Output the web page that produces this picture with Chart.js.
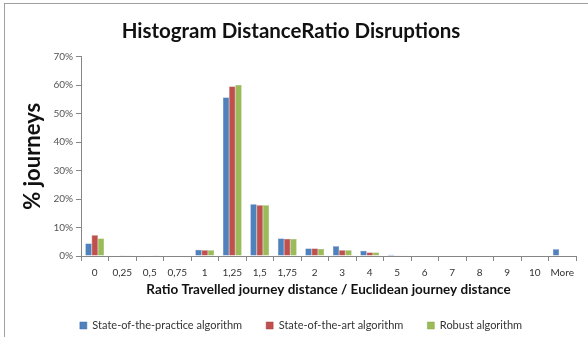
<!DOCTYPE html>
<html>
<head>
<meta charset="utf-8">
<script src="https://cdn.jsdelivr.net/npm/chart.js@4.4.1/dist/chart.umd.min.js"></script>
<style>
  html, body { margin: 0; padding: 0; background: #fff; }
  #wrap { position: relative; width: 588px; height: 337px; }
  #frame { position: absolute; left: 4px; top: 3px; right: -2px; bottom: -2px; border-left: 1px solid #a0a0a0; border-top: 1px solid #a0a0a0; }
  canvas { position: absolute; left: 0; top: 0; }
</style>
</head>
<body>
<div id="wrap">
  <div id="frame"></div>
  <canvas id="c" width="588" height="337"></canvas>
</div>
<script>
// Distance ratio bins (travelled / euclidean)
const categories = ['0', '0,25', '0,5', '0,75', '1', '1,25', '1,5', '1,75', '2', '3', '4', '5', '6', '7', '8', '9', '10', 'More'];

// Share of journeys per bin, in percent
const practiceValues = [4.4, 0.2, 0.2, 0.2, 2.2, 55.6, 18.2, 6.1, 2.6, 3.4, 1.8, 0.4, 0, 0, 0, 0, 0, 2.4];
const artValues      = [7.3, 0.1, 0.0, 0.0, 2.0, 59.5, 17.8, 6.0, 2.6, 2.0, 1.2, 0.3, 0, 0, 0, 0, 0, 0];
const robustValues   = [6.1, 0.1, 0.1, 0.0, 2.0, 60.0, 17.8, 6.0, 2.5, 2.0, 1.2, 0.3, 0, 0, 0, 0, 0, 0];

const yTicks = [0, 10, 20, 30, 40, 50, 60, 70];

const font = 'Lato, Carlito, Calibri, "Open Sans", sans-serif';
const axisGray = '#868686';

// Nudge the legend row a little to the right of the canvas centre
const legendShift = {
  id: 'legendShift',
  afterLayout(chart) {
    if (chart.legend) {
      chart.legend.left += 10;
      chart.legend.right += 10;
    }
  }
};

new Chart(document.getElementById('c'), {
  type: 'bar',
  plugins: [legendShift],
  data: {
    labels: categories,
    datasets: [
      { label: 'State-of-the-practice algorithm', data: practiceValues, backgroundColor: '#4F81BD', borderColor: '#3A6EA8', borderWidth: 0.5 },
      { label: 'State-of-the-art algorithm', data: artValues, backgroundColor: '#C0504D', borderColor: '#A63F3C', borderWidth: 0.5 },
      { label: 'Robust algorithm', data: robustValues, backgroundColor: '#9BBB59', borderColor: '#87A649', borderWidth: 0.5 }
    ]
  },
  options: {
    responsive: false,
    animation: false,
    layout: { padding: { left: 6, right: 12, top: 0, bottom: -4 } },
    datasets: { bar: { categoryPercentage: 0.68, barPercentage: 1.0 } },
    plugins: {
      title: {
        display: true,
        text: 'Histogram DistanceRatio Disruptions',
        color: '#111',
        font: { family: font, size: 20.5, weight: 'bold' },
        padding: { top: 19, bottom: 13 }
      },
      legend: {
        position: 'bottom',
        labels: {
          boxWidth: 7,
          boxHeight: 7,
          padding: 24,
          color: '#333',
          font: { family: font, size: 11 }
        }
      },
      tooltip: { enabled: false }
    },
    scales: {
      x: {
        grid: { display: true, drawOnChartArea: false, offset: true, tickLength: 5, color: axisGray },
        border: { color: axisGray },
        ticks: { color: '#333', font: { family: font, size: 10 }, padding: 6, maxRotation: 0, autoSkip: false },
        title: {
          display: true,
          text: 'Ratio Travelled journey distance / Euclidean journey distance',
          color: '#111',
          font: { family: font, size: 13.5, weight: 'bold' },
          padding: { top: 0, bottom: -2 }
        },
        afterFit: (s) => { s.height = 40; }
      },
      y: {
        min: 0,
        max: 70,
        afterBuildTicks: (s) => { s.ticks = yTicks.map(v => ({ value: v })); },
        grid: { display: true, drawOnChartArea: false, tickLength: 5, color: axisGray },
        border: { color: axisGray },
        ticks: { color: '#555', font: { family: font, size: 10 }, padding: 3, callback: (v) => v + '%' },
        title: {
          display: true,
          text: '% journeys',
          color: '#111',
          font: { family: font, size: 22, weight: 'bold' },
          padding: { top: 14, bottom: 0 }
        },
        afterFit: (s) => { s.width = 75; }
      }
    }
  }
});
</script>
</body>
</html>
